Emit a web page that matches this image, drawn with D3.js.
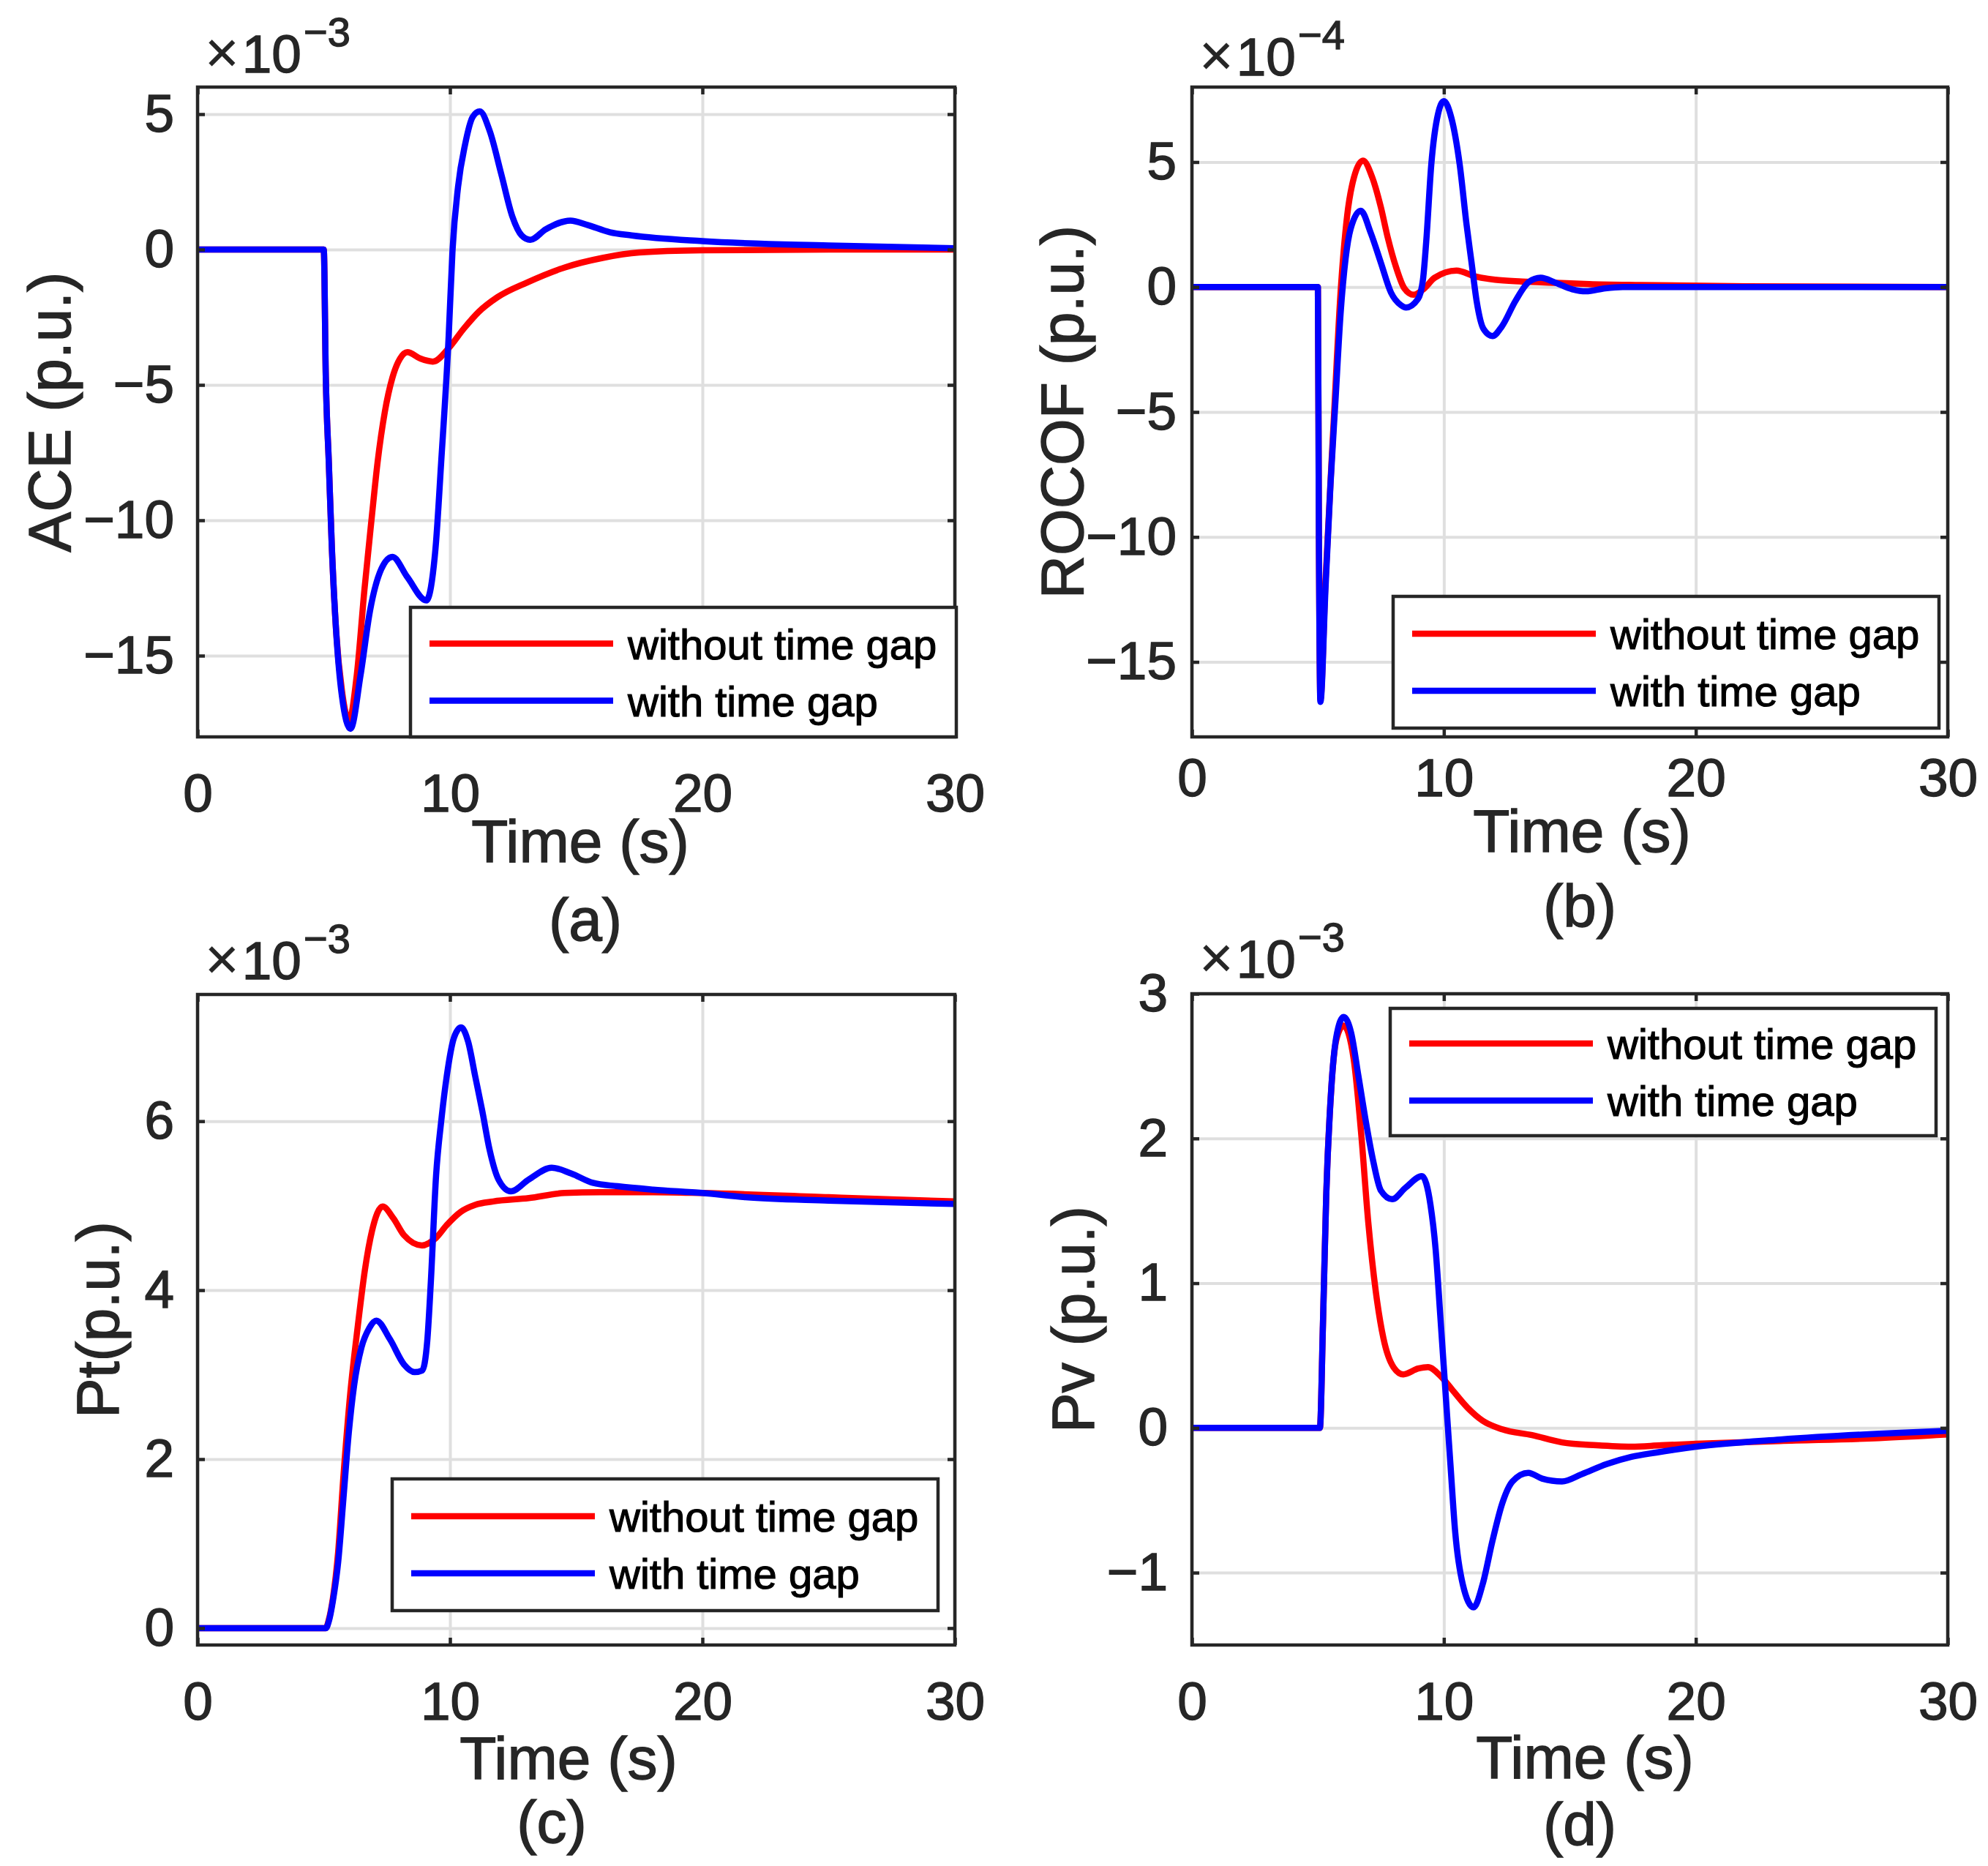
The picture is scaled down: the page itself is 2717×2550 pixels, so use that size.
<!DOCTYPE html>
<html>
<head>
<meta charset="utf-8">
<script src="https://cdn.jsdelivr.net/npm/d3@7"></script>
<style>
  body { margin: 0; background: #fff; }
  text { font-family: "Liberation Sans", Arial, Helvetica, sans-serif; fill: #262626; stroke: #262626; stroke-width: 1.4px; }
</style>
</head>
<body>
<script>
// ---- data ----
const seriesNames = ["without time gap", "with time gap"];
const timeTicks = [0, 10, 20, 30];

// (a) ACE, x1e-3
const aceTicks = [-15, -10, -5, 0, 5];
const aceTimeWithout = [0, 5.0, 5.08, 5.2, 5.32, 5.49, 5.72, 6.0, 6.31, 6.61, 6.9, 7.13, 7.42, 7.72, 8.02, 8.31, 8.83, 9.32, 9.95, 10.54, 11.14, 11.88, 13.07, 14.55, 16.04, 17.5, 20, 25, 30];
const aceWithout = [0, 0, -4.7, -7.87, -11, -14.1, -16.3, -17.4, -15.7, -12.57, -9.9, -7.87, -5.99, -4.73, -4.03, -3.79, -4.03, -4.14, -3.64, -2.93, -2.3, -1.76, -1.21, -0.66, -0.31, -0.11, -0.03, 0, 0];
const aceTimeWith = [0, 5.0, 5.08, 5.2, 5.32, 5.49, 5.72, 6.06, 6.46, 6.83, 7.28, 7.72, 8.31, 9.06, 9.43, 9.65, 9.95, 10.1, 10.32, 10.6, 10.9, 11.18, 11.58, 12.03, 12.47, 12.84, 13.18, 13.8, 14.77, 15.44, 16.33, 17.2, 20, 25, 30];
const aceWith = [0, 0, -4.7, -7.87, -11, -14.1, -16.5, -17.7, -15.7, -13.35, -11.8, -11.35, -12.1, -12.96, -11.0, -7.87, -3.17, -0.03, 2.32, 3.89, 4.9, 5.1, 4.36, 2.79, 1.22, 0.52, 0.36, 0.75, 1.07, 0.91, 0.64, 0.52, 0.31, 0.15, 0.05];

// (b) ROCOF, x1e-4
const rocofTicks = [-15, -10, -5, 0, 5];
const rocofTimeWithout = [0, 5.0, 5.04, 5.1, 5.3, 5.63, 5.9, 6.16, 6.43, 6.79, 7.16, 7.5, 7.77, 8.1, 8.43, 8.8, 9.23, 9.63, 10.5, 11.23, 12.03, 13.1, 14.44, 15.77, 17.8, 22, 30];
const rocofWithout = [0, 0, -10, -16.5, -11.8, -5.33, -0.22, 2.84, 4.38, 5.06, 4.38, 3.19, 1.99, 0.8, -0.05, -0.31, -0.05, 0.37, 0.66, 0.43, 0.29, 0.22, 0.17, 0.12, 0.08, 0.03, 0];
const rocofTimeWith = [0, 5.0, 5.04, 5.1, 5.3, 5.5, 5.7, 5.9, 6.1, 6.3, 6.7, 7.1, 7.5, 7.9, 8.3, 8.5, 8.97, 9.17, 9.3, 9.5, 9.77, 10.0, 10.3, 10.63, 10.9, 11.1, 11.3, 11.57, 11.93, 12.3, 12.84, 13.37, 13.84, 14.44, 15.1, 15.64, 16.4, 17.1, 30];
const rocofWith = [0, 0, -10, -16.6, -12.1, -7.9, -4.5, -1.07, 1.14, 2.33, 3.05, 2.16, 0.97, -0.22, -0.73, -0.82, -0.48, 0.29, 1.82, 4.89, 6.93, 7.44, 6.76, 4.89, 2.5, 0.97, -0.56, -1.67, -1.96, -1.58, -0.56, 0.2, 0.37, 0.17, -0.09, -0.17, -0.05, 0, 0];

// (c) Pt, x1e-3
const ptTicks = [0, 2, 4, 6];
const ptTimeWithout = [0, 5.08, 5.2, 5.36, 5.57, 5.78, 6.06, 6.35, 6.63, 6.91, 7.33, 7.76, 8.18, 8.89, 9.45, 9.87, 10.44, 11.0, 11.71, 13.12, 14.53, 15.94, 18.05, 20, 25, 30];
const ptWithout = [0, 0, 0.1, 0.35, 0.9, 1.8, 2.81, 3.58, 4.24, 4.7, 4.99, 4.85, 4.65, 4.53, 4.62, 4.77, 4.93, 5.01, 5.05, 5.09, 5.15, 5.16, 5.16, 5.15, 5.1, 5.05];
const ptTimeWith = [0, 5.08, 5.2, 5.36, 5.57, 5.78, 5.99, 6.2, 6.49, 6.8, 7.08, 7.62, 8.18, 8.6, 8.9, 9.1, 9.24, 9.45, 9.66, 9.87, 10.16, 10.44, 10.72, 11.0, 11.28, 11.57, 11.92, 12.41, 13.12, 14.03, 14.81, 15.66, 16.64, 18.05, 20, 21.7, 25, 30];
const ptWith = [0, 0, 0.08, 0.32, 0.78, 1.54, 2.31, 2.87, 3.32, 3.55, 3.64, 3.42, 3.12, 3.03, 3.05, 3.4, 4.09, 5.36, 6.02, 6.53, 6.99, 7.11, 6.94, 6.53, 6.12, 5.66, 5.31, 5.17, 5.31, 5.45, 5.38, 5.27, 5.23, 5.19, 5.15, 5.1, 5.06, 5.02];

// (d) Pv, x1e-3
const pvTicks = [-1, 0, 1, 2, 3];
const pvTimeWithout = [0, 5.08, 5.2, 5.33, 5.53, 5.73, 6.02, 6.42, 6.71, 7.0, 7.3, 7.6, 8.0, 8.39, 8.98, 9.37, 9.86, 10.35, 10.94, 11.54, 12.32, 13.5, 14.69, 16.06, 17.44, 18.62, 20, 23.35, 27.28, 30];
const pvWithout = [0, 0, 0.71, 1.6, 2.34, 2.68, 2.78, 2.55, 2.05, 1.42, 0.94, 0.62, 0.42, 0.37, 0.41, 0.42, 0.36, 0.26, 0.14, 0.05, -0.01, -0.05, -0.1, -0.12, -0.13, -0.12, -0.11, -0.09, -0.07, -0.045];
const pvTimeWith = [0, 5.08, 5.2, 5.33, 5.53, 5.73, 6.02, 6.32, 6.61, 6.91, 7.2, 7.5, 7.95, 8.48, 9.13, 9.47, 9.67, 9.86, 10.06, 10.26, 10.45, 10.75, 11.18, 11.54, 11.93, 12.32, 12.72, 13.35, 13.9, 14.69, 15.47, 16.46, 17.44, 18.43, 20, 23.35, 27.28, 30];
const pvWith = [0, 0, 0.71, 1.6, 2.34, 2.7, 2.84, 2.73, 2.43, 2.11, 1.84, 1.64, 1.58, 1.66, 1.74, 1.54, 1.24, 0.77, 0.26, -0.25, -0.72, -1.08, -1.24, -1.08, -0.78, -0.52, -0.37, -0.31, -0.35, -0.37, -0.32, -0.25, -0.2, -0.17, -0.13, -0.08, -0.04, -0.02];

const colors = ["#ff0000", "#0000ff"];
const axisColor = "#262626";
const tickFont = 73, labelFont = 82, legendFont = 58;

const svg = d3.select("body").append("svg")
  .attr("width", 2717)
  .attr("height", 2550);

svg.append("rect").attr("width", 2717).attr("height", 2550).attr("fill", "#fff");

const fmt = d => d < 0 ? "\u2212" + Math.abs(d) : String(d);

function drawPanel(p) {
  var x = d3.scaleLinear().domain([0, 30]).range([p.left, p.right]);
  var y = d3.scaleLinear().domain(p.yDomain).range([p.bottom, p.top]);
  var h = p.bottom - p.top, w = p.right - p.left;
  var g = svg.append("g");

  // grid
  g.append("g")
    .attr("transform", "translate(0," + p.bottom + ")")
    .call(d3.axisBottom(x).tickValues(timeTicks).tickSize(-h).tickFormat(""))
    .call(s => { s.select(".domain").remove(); s.selectAll("line").attr("stroke", "#dfdfdf").attr("stroke-width", 4); });
  g.append("g")
    .attr("transform", "translate(" + p.left + ",0)")
    .call(d3.axisLeft(y).tickValues(p.yTicks).tickSize(-w).tickFormat(""))
    .call(s => { s.select(".domain").remove(); s.selectAll("line").attr("stroke", "#dfdfdf").attr("stroke-width", 4); });

  // curves
  var clipId = "clip" + p.id;
  svg.append("clipPath").attr("id", clipId)
    .append("rect").attr("x", p.left).attr("y", p.top).attr("width", w).attr("height", h);
  var line = d3.line().x(d => x(d[0])).y(d => y(d[1])).curve(d3.curveMonotoneX);
  p.series.forEach((s, i) => {
    g.append("path")
      .datum(d3.zip(s.t, s.v))
      .attr("clip-path", "url(#" + clipId + ")")
      .attr("fill", "none")
      .attr("stroke", colors[i])
      .attr("stroke-width", 8.5)
      .attr("stroke-linejoin", "round")
      .attr("d", line);
  });

  // ticks and labels
  var styleAxis = s => {
    s.select(".domain").remove();
    s.selectAll("line").attr("stroke", axisColor).attr("stroke-width", 4.5);
    s.selectAll("text").attr("fill", axisColor).style("font-size", tickFont + "px")
      .style("font-family", '"Liberation Sans", Arial, Helvetica, sans-serif');
  };
  g.append("g")
    .attr("transform", "translate(0," + p.bottom + ")")
    .call(d3.axisBottom(x).tickValues(timeTicks).tickSize(-10).tickPadding(p.xPad).tickFormat(fmt))
    .call(styleAxis);
  g.append("g")
    .attr("transform", "translate(0," + p.top + ")")
    .call(d3.axisTop(x).tickValues(timeTicks).tickSize(-10).tickFormat(""))
    .call(styleAxis);
  g.append("g")
    .attr("transform", "translate(" + p.left + ",0)")
    .call(d3.axisLeft(y).tickValues(p.yTicks).tickSize(-10).tickPadding(p.yPad).tickFormat(fmt))
    .call(styleAxis);
  g.append("g")
    .attr("transform", "translate(" + p.right + ",0)")
    .call(d3.axisRight(y).tickValues(p.yTicks).tickSize(-10).tickFormat(""))
    .call(styleAxis);

  // box
  g.append("rect")
    .attr("x", p.left).attr("y", p.top).attr("width", w).attr("height", h)
    .attr("fill", "none").attr("stroke", axisColor).attr("stroke-width", 4.5);

  // exponent
  var ex = g.append("text").attr("x", p.left + 10).attr("y", p.expY).style("font-size", tickFont + "px");
  ex.append("tspan").style("stroke-width", "0.3px").style("font-size", "80px").text("\u00d7");
  ex.append("tspan").attr("dx", 4).text("10");
  ex.append("tspan").attr("dx", 3).attr("dy", -36).style("font-size", "56px").text(p.exponent);

  // axis labels
  g.append("text")
    .attr("x", p.xLabelX).attr("y", p.xLabelY)
    .attr("text-anchor", "middle").style("font-size", labelFont + "px")
    .text("Time (s)");
  g.append("text")
    .attr("transform", "translate(" + p.yLabelX + "," + (p.top + h / 2) + ") rotate(-90)")
    .attr("text-anchor", "middle").style("font-size", labelFont + "px")
    .text(p.yLabel);
  g.append("text")
    .attr("x", p.capX).attr("y", p.capY)
    .attr("text-anchor", "middle").style("font-size", labelFont + "px")
    .text(p.caption);

  // legend
  var lg = g.append("g").attr("transform", "translate(" + p.legX + "," + p.legY + ")");
  lg.append("rect").attr("width", 746).attr("height", p.legH)
    .attr("fill", "#fff").attr("stroke", axisColor).attr("stroke-width", 4.5);
  seriesNames.forEach((name, i) => {
    var ry = p.legH / 2 + (i === 0 ? -39 : 39);
    lg.append("line").attr("x1", 26).attr("x2", 277).attr("y1", ry).attr("y2", ry)
      .attr("stroke", colors[i]).attr("stroke-width", 8.5);
    lg.append("text").attr("x", 297).attr("y", ry + 21)
      .style("font-size", legendFont + "px").style("fill", "#000").style("stroke", "#000")
      .style("stroke-width", "1.2px").text(name);
  });
}

drawPanel({
  id: "a", left: 270, right: 1305, top: 119, bottom: 1007,
  yDomain: [-18, 6], yTicks: aceTicks, xPad: 50, yPad: 32,
  series: [{t: aceTimeWithout, v: aceWithout}, {t: aceTimeWith, v: aceWith}],
  exponent: "\u22123", expY: 99,
  xLabelX: 793, xLabelY: 1178, yLabel: "ACE (p.u.)", yLabelX: 96,
  caption: "(a)", capX: 800, capY: 1285,
  legX: 561, legY: 830, legH: 177
});
drawPanel({
  id: "b", left: 1629, right: 2662, top: 119, bottom: 1007,
  yDomain: [-18, 8], yTicks: rocofTicks, xPad: 29, yPad: 21,
  series: [{t: rocofTimeWithout, v: rocofWithout}, {t: rocofTimeWith, v: rocofWith}],
  exponent: "\u22124", expY: 103,
  xLabelX: 2162, xLabelY: 1164, yLabel: "ROCOF (p.u.)", yLabelX: 1480,
  caption: "(b)", capX: 2159, capY: 1266,
  legX: 1904, legY: 815, legH: 180
});
drawPanel({
  id: "c", left: 270, right: 1305, top: 1359, bottom: 2248,
  yDomain: [-0.2, 7.5], yTicks: ptTicks, xPad: 50, yPad: 32,
  series: [{t: ptTimeWithout, v: ptWithout}, {t: ptTimeWith, v: ptWith}],
  exponent: "\u22123", expY: 1338,
  xLabelX: 777, xLabelY: 2431, yLabel: "Pt(p.u.)", yLabelX: 162,
  caption: "(c)", capX: 754, capY: 2518,
  legX: 536, legY: 2021, legH: 180
});
drawPanel({
  id: "d", left: 1629, right: 2662, top: 1358, bottom: 2248,
  yDomain: [-1.5, 3], yTicks: pvTicks, xPad: 50, yPad: 33,
  series: [{t: pvTimeWithout, v: pvWithout}, {t: pvTimeWith, v: pvWith}],
  exponent: "\u22123", expY: 1336,
  xLabelX: 2166, xLabelY: 2430, yLabel: "Pv (p.u.)", yLabelX: 1495,
  caption: "(d)", capX: 2159, capY: 2521,
  legX: 1900, legY: 1378, legH: 174
});
</script>
</body>
</html>
